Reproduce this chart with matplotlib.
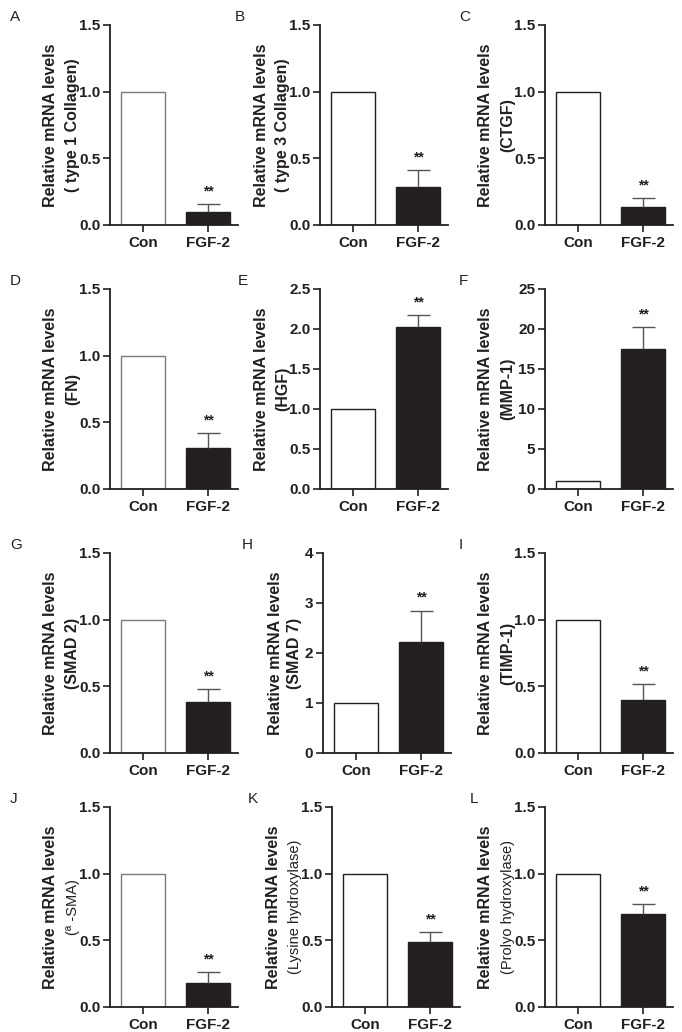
import matplotlib
matplotlib.use('Agg')
import matplotlib.pyplot as plt

plt.rcParams['font.family'] = ['Liberation Sans', 'DejaVu Sans']

panel_letters = ['A', 'B', 'C', 'D', 'E', 'F', 'G', 'H', 'I', 'J', 'K', 'L']
genes = ['( type 1 Collagen)', '( type 3 Collagen)', '(CTGF)', '(FN)', '(HGF)', '(MMP-1)',
         '(SMAD 2)', '(SMAD 7)', '(TIMP-1)', '(\u00aa -SMA)', '(Lysine hydroxylase)',
         '(Prolyo hydroxylase)']
groups = ['Con', 'FGF-2']
con_values = [1.0, 1.0, 1.0, 1.0, 1.0, 1.0, 1.0, 1.0, 1.0, 1.0, 1.0, 1.0]
fgf2_values = [0.10, 0.285, 0.137, 0.305, 2.03, 17.5, 0.38, 2.23, 0.40, 0.18, 0.49, 0.70]
fgf2_errors = [0.06, 0.125, 0.063, 0.115, 0.14, 2.7, 0.10, 0.62, 0.12, 0.08, 0.075, 0.07]
y_max = [1.5, 1.5, 1.5, 1.5, 2.5, 25, 1.5, 4, 1.5, 1.5, 1.5, 1.5]
y_step = [0.5, 0.5, 0.5, 0.5, 0.5, 5, 0.5, 1, 0.5, 0.5, 0.5, 0.5]
significance = ['**'] * 12

FIG_W, FIG_H = 682, 1032
DARK = '#231f20'


def px_axes(fig, left, top, width, height):
    """Create axes from pixel coordinates (origin at top-left)."""
    return fig.add_axes([left / FIG_W, 1 - (top + height) / FIG_H,
                         width / FIG_W, height / FIG_H])


def draw_panel(fig, i, left, top, letter_x, label_off):
    ax = px_axes(fig, left, top, 128, 200)
    ymax = y_max[i]
    con_edge = '#7a7a7a' if left < 200 else DARK
    ax.bar(0, con_values[i], width=0.67, color='white', edgecolor=con_edge,
           linewidth=1.0, zorder=2)
    ax.bar(1, fgf2_values[i], width=0.67, color=DARK, edgecolor=DARK,
           linewidth=1.0, zorder=2)
    top_err = fgf2_values[i] + fgf2_errors[i]
    ax.vlines(1, fgf2_values[i], top_err, color='#555555', linewidth=1.0, zorder=3)
    ax.hlines(top_err, 1 - 0.18, 1 + 0.18, color='#555555', linewidth=1.0, zorder=3)
    ax.annotate(significance[i], (1, top_err), xytext=(0, 4), textcoords='offset points',
                ha='center', va='bottom', fontsize=10, fontweight='bold', color=DARK)

    ax.set_xlim(-0.5, 1.45)
    ax.set_ylim(0, ymax)
    n = int(round(ymax / y_step[i]))
    ticks = [k * y_step[i] for k in range(n + 1)]
    ax.set_yticks(ticks)
    if y_step[i] < 1:
        ax.set_yticklabels([f'{t:.1f}' for t in ticks])
    else:
        ax.set_yticklabels([f'{int(t)}' for t in ticks])
    ax.set_xticks([0, 1])
    ax.set_xticklabels(groups)

    for side in ['top', 'right']:
        ax.spines[side].set_visible(False)
    for side in ['left', 'bottom']:
        ax.spines[side].set_color(DARK)
        ax.spines[side].set_linewidth(1.3)
    ax.tick_params(axis='both', direction='out', length=5, width=1.2, color=DARK,
                   labelsize=11, labelcolor=DARK, pad=2)
    for lab in ax.get_xticklabels() + ax.get_yticklabels():
        lab.set_fontweight('bold')
    ax.tick_params(axis='x', pad=3)

    # two-line y label
    off1, off2 = label_off
    yc = 1 - (top + 100) / FIG_H
    fig.text((left + off1) / FIG_W, yc, 'Relative mRNA levels', rotation=90,
             ha='center', va='center', fontsize=11.5, fontweight='bold', color=DARK)
    light = letter_x is not None and i >= 9
    fig.text((left + off2) / FIG_W, yc, genes[i], rotation=90, ha='center', va='center',
             fontsize=10.5 if light else 11.5, fontweight='normal' if light else 'bold',
             color=DARK)

    # panel letter
    fig.text(letter_x / FIG_W, 1 - (top - 8) / FIG_H, panel_letters[i], ha='left',
             va='center', fontsize=11, color=DARK)
    return ax


def main():
    fig = plt.figure(figsize=(FIG_W / 100, FIG_H / 100), dpi=100)
    row_tops = [25, 289, 553, 807]
    col_lefts = [[110, 320, 545], [110, 320, 545], [110, 323, 545], [110, 332, 545]]
    letter_xs = [[10, 235, 459], [10, 238, 459], [10, 242, 459], [10, 248, 470]]
    for r in range(4):
        for c in range(3):
            i = r * 3 + c
            off = (-48, -28) if panel_letters[i] == 'H' else (-59, -37)
            draw_panel(fig, i, col_lefts[r][c], row_tops[r], letter_xs[r][c], off)
    fig.savefig('out.png', dpi=100, facecolor='white')


if __name__ == '__main__':
    main()
